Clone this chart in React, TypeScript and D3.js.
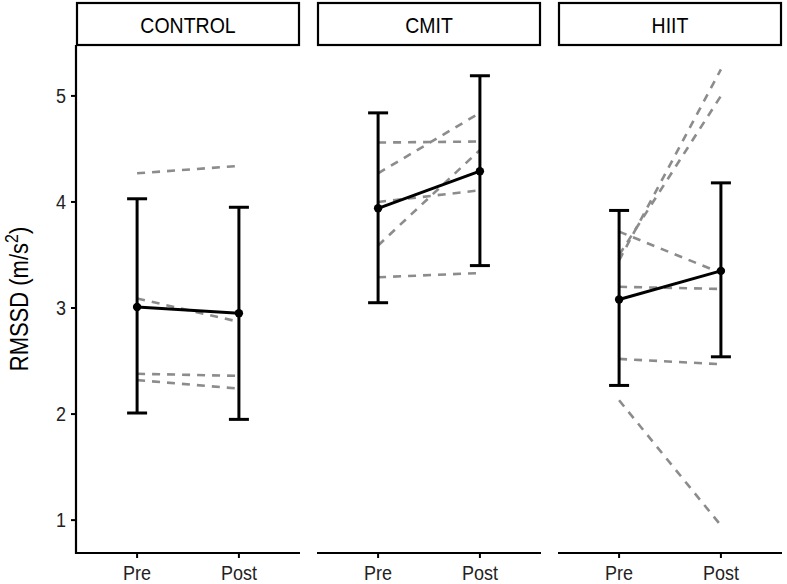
import React from 'react'
import * as d3 from 'd3'

// facets and x categories
const groups = ['CONTROL', 'CMIT', 'HIIT']
const times = ['Pre', 'Post']
const yTicks = [1, 2, 3, 4, 5]

// individual subjects (pre -> post)
const controlPre = [4.27, 3.09, 2.38, 2.32]
const controlPost = [4.34, 2.87, 2.36, 2.24]
const cmitPre = [4.56, 4.27, 4.0, 3.59, 3.29]
const cmitPost = [4.57, 4.84, 4.11, 4.49, 3.33]
const hiitPre = [3.45, 3.5, 3.72, 3.2, 2.52, 2.13]
const hiitPost = [5.25, 5.0, 3.33, 3.18, 2.47, 0.95]

// group mean and error bars, one per facet
const meanPre = [3.01, 3.94, 3.08]
const meanPost = [2.95, 4.29, 3.35]
const lowPre = [2.01, 3.05, 2.27]
const highPre = [4.03, 4.84, 3.92]
const lowPost = [1.95, 3.4, 2.54]
const highPost = [3.95, 5.19, 4.18]

const subjectsPre = [controlPre, cmitPre, hiitPre]
const subjectsPost = [controlPost, cmitPost, hiitPost]

export default function App() {
    const width = 787
    const height = 584
    const left = 76
    const panelW = 224
    const gap = 17
    const stripTop = 3
    const stripH = 42
    const plotTop = stripTop + stripH
    const plotBottom = 553
    const font = '"Liberation Sans", Arial, sans-serif'
    const stretch = 1.15 // text in the original is a bit taller than wide

    // y scale shared by all facets
    const y = d3.scaleLinear().domain([0.69, 5.48]).range([plotBottom, plotTop])

    // discrete x with ggplot-like expansion
    const x = d3.scalePoint().domain(times).range([panelW * 0.6 / 2.2, panelW * 1.6 / 2.2])

    const line = d3.line<[string, number]>()
        .x(d => x(d[0]) as number)
        .y(d => y(d[1]))

    const cap = 10

    return (
        <svg width={width} height={height} style={{ position: 'absolute', left: 0, top: 0, background: '#fff' }}
            fontFamily={font}>
            {/* y axis title */}
            <text transform={`translate(28,${(plotTop + plotBottom) / 2}) rotate(-90) scale(1,${stretch})`} textAnchor="middle"
                fontSize={22} fill="#000">
                RMSSD (m/s<tspan dy={-9} fontSize={16}>2</tspan><tspan dy={9}>)</tspan>
            </text>

            {/* y axis on the first facet */}
            <line x1={left} x2={left} y1={plotTop} y2={plotBottom + 1} stroke="#000" strokeWidth={2.2} />
            {yTicks.map(t => (
                <g key={t}>
                    <line x1={left - 5} x2={left} y1={y(t)} y2={y(t)} stroke="#000" strokeWidth={2} />
                    <text transform={`translate(${left - 10},${y(t) + 7}) scale(1,${stretch})`} textAnchor="end" fontSize={18} fill="#222">{t}</text>
                </g>
            ))}

            {groups.map((g, i) => {
                const ox = left + i * (panelW + gap)
                const pre = subjectsPre[i]
                const post = subjectsPost[i]
                return (
                    <g key={g} transform={`translate(${ox},0)`}>
                        {/* strip */}
                        <rect x={1} y={stripTop} width={panelW - 2} height={stripH} fill="#fff" stroke="#000" strokeWidth={2.2} />
                        <text transform={`translate(${panelW / 2},${stripTop + stripH / 2 + 8.5}) scale(1,${stretch})`} textAnchor="middle" fontSize={19.5} fill="#000">{g}</text>

                        {/* bottom axis */}
                        <line x1={0} x2={panelW} y1={plotBottom} y2={plotBottom} stroke="#000" strokeWidth={2.2} />
                        {times.map(t => (
                            <g key={t}>
                                <line x1={x(t)} x2={x(t)} y1={plotBottom} y2={plotBottom + 5} stroke="#000" strokeWidth={2} />
                                <text transform={`translate(${x(t)},${plotBottom + 27}) scale(1,${stretch})`} textAnchor="middle" fontSize={18} fill="#222">{t}</text>
                            </g>
                        ))}

                        {/* subjects */}
                        {pre.map((v, j) => (
                            <path key={j} d={line([['Pre', v], ['Post', post[j]]]) || ''} fill="none"
                                stroke="#8c8c8c" strokeWidth={2.6} strokeDasharray="8,7" />
                        ))}

                        {/* error bars */}
                        {[[lowPre[i], highPre[i], 'Pre'], [lowPost[i], highPost[i], 'Post']].map(([lo, hi, t]) => {
                            const cx = x(t as string) as number
                            return (
                                <g key={t as string} stroke="#000" strokeWidth={3}>
                                    <line x1={cx} x2={cx} y1={y(lo as number)} y2={y(hi as number)} />
                                    <line x1={cx - cap} x2={cx + cap} y1={y(lo as number)} y2={y(lo as number)} />
                                    <line x1={cx - cap} x2={cx + cap} y1={y(hi as number)} y2={y(hi as number)} />
                                </g>
                            )
                        })}

                        {/* mean */}
                        <path d={line([['Pre', meanPre[i]], ['Post', meanPost[i]]]) || ''} fill="none" stroke="#000" strokeWidth={3} />
                        <circle cx={x('Pre')} cy={y(meanPre[i])} r={4.2} fill="#000" />
                        <circle cx={x('Post')} cy={y(meanPost[i])} r={4.2} fill="#000" />
                    </g>
                )
            })}
        </svg>
    )
}
